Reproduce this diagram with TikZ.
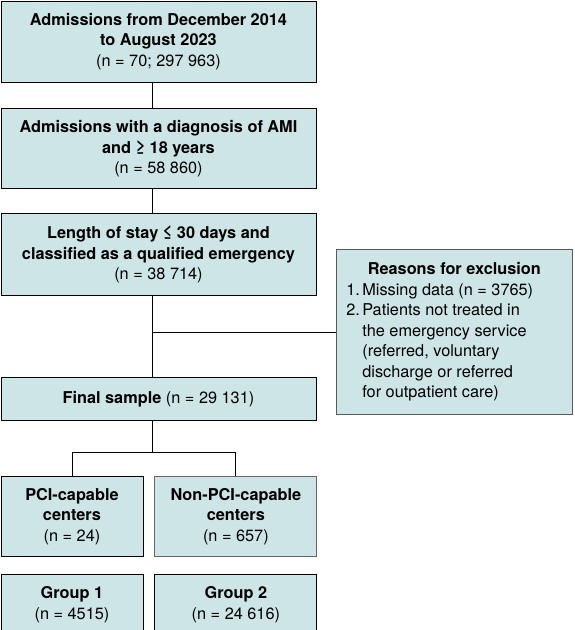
\documentclass[tikz,border=0pt]{standalone}
\usepackage{fontspec}
\setmainfont{TeX Gyre Heros}
\usetikzlibrary{positioning}
\definecolor{boxfill}{RGB}{205,229,231}
\tikzset{
  box/.style={rectangle,draw,fill=boxfill,line width=0.9pt,minimum width=315pt,minimum height=81pt,inner sep=0pt,align=center,font=\fontsize{16.3}{20.5}\selectfont},
  sbox/.style={box,minimum width=142pt,minimum height=80pt},
  excl/.style={box,draw=gray!70!black,line width=1.3pt,minimum width=236pt,minimum height=165pt,align=left},
  ln/.style={line width=0.9pt},
}
\newcommand{\itemno}[1]{\makebox[16pt][l]{#1}}

\begin{document}
\begin{tikzpicture}[x=1pt,y=-1pt]
  \useasboundingbox (0,0) rectangle (574,630);
  \node[box,anchor=north west] (adm) at (0.5,0.5) {\textbf{Admissions from December 2014}\\\textbf{to August 2023}\\(n = 70; 297 963)};
  \node[box,below=26pt of adm,minimum height=80pt] (ami) {\textbf{Admissions with a diagnosis of AMI}\\\textbf{and ≥ 18 years}\\(n = 58 860)};
  \node[box,below=24pt of ami,minimum height=82pt] (stay) {\textbf{Length of stay ≤ 30 days and}\\\textbf{classified as a qualified emergency}\\(n = 38 714)};
  \node[box,below=81pt of stay,minimum height=43pt] (fin) {\textbf{Final sample} (n = 29 131)};
  \node[excl,anchor=north east] (excl) at (573,249) {\makebox[216pt][c]{\textbf{Reasons for exclusion}}\\
    \itemno{1.}Missing data (n = 3765)\\
    \itemno{2.}Patients not treated in\\
    \itemno{}the emergency service\\
    \itemno{}(referred, voluntary\\
    \itemno{}discharge or referred\\
    \itemno{}for outpatient care)};
  \node[sbox,anchor=north west] (pci) at ([yshift=-55pt]fin.south west) {\textbf{PCI-capable}\\\textbf{centers}\\(n = 24)};
  \node[sbox,right=11pt of pci,minimum width=162pt,draw=gray!80!black] (npci) {\textbf{Non-PCI-capable}\\\textbf{centers}\\(n = 657)};
  \node[sbox,below=17pt of pci,minimum height=60pt] (g1) {\textbf{Group 1}\\(n = 4515)};
  \node[sbox,below=17pt of npci,minimum width=162pt,minimum height=60pt] (g2) {\textbf{Group 2}\\(n = 24 616)};
  % vertical spine of the flow
  \coordinate (spine) at (152,0);
  \draw[ln] (adm.south -| spine) -- (ami.north -| spine);
  \draw[ln] (ami.south -| spine) -- (stay.north -| spine);
  \draw[ln] (stay.south -| spine) -- (fin.north -| spine);
  \draw[ln] (excl.west -| spine) -- (excl.west);
  \draw[ln] (fin.south -| spine) -- ++(0,31) coordinate (br);
  \draw[ln] (pci.north) |- (br) -| (npci.north);
\end{tikzpicture}
\end{document}
